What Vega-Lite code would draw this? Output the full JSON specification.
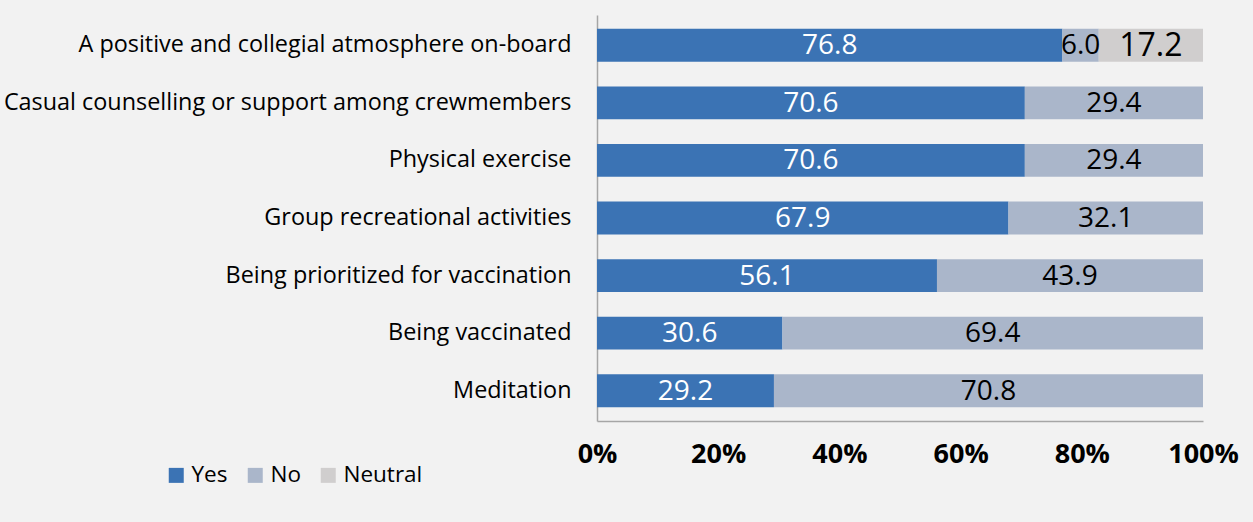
{
  "$schema": "https://vega.github.io/schema/vega-lite/v6.json",
  "width": 606,
  "height": 406,
  "autosize": "none",
  "padding": {"left": 597, "top": 15, "right": 50, "bottom": 101},
  "background": "#f2f2f2",
  "config": {
    "view": {"stroke": null},
    "font": "Open Sans"
  },
  "data": {
    "values": [
      {"item": "A positive and collegial atmosphere on-board", "response": "Yes", "ord": 1, "value": 76.8},
      {"item": "A positive and collegial atmosphere on-board", "response": "No", "ord": 2, "value": 6.0},
      {"item": "A positive and collegial atmosphere on-board", "response": "Neutral", "ord": 3, "value": 17.2},
      {"item": "Casual counselling or support among crewmembers", "response": "Yes", "ord": 1, "value": 70.6},
      {"item": "Casual counselling or support among crewmembers", "response": "No", "ord": 2, "value": 29.4},
      {"item": "Physical exercise", "response": "Yes", "ord": 1, "value": 70.6},
      {"item": "Physical exercise", "response": "No", "ord": 2, "value": 29.4},
      {"item": "Group recreational activities", "response": "Yes", "ord": 1, "value": 67.9},
      {"item": "Group recreational activities", "response": "No", "ord": 2, "value": 32.1},
      {"item": "Being prioritized for vaccination", "response": "Yes", "ord": 1, "value": 56.1},
      {"item": "Being prioritized for vaccination", "response": "No", "ord": 2, "value": 43.9},
      {"item": "Being vaccinated", "response": "Yes", "ord": 1, "value": 30.6},
      {"item": "Being vaccinated", "response": "No", "ord": 2, "value": 69.4},
      {"item": "Meditation", "response": "Yes", "ord": 1, "value": 29.2},
      {"item": "Meditation", "response": "No", "ord": 2, "value": 70.8}
    ]
  },
  "transform": [
    {"stack": "value", "groupby": ["item"], "sort": [{"field": "ord"}], "as": ["x0", "x1"]},
    {"calculate": "(datum.x0 + datum.x1) / 2", "as": "mid"}
  ],
  "encoding": {
    "y": {
      "field": "item",
      "type": "nominal",
      "sort": null,
      "scale": {"paddingInner": 0.43, "paddingOuter": 0.24},
      "axis": {
        "title": null,
        "ticks": false,
        "tickSize": 0,
        "labelPadding": 26,
        "labelFontSize": 23.4,
        "labelColor": "#000000",
        "labelFont": "Open Sans",
        "labelLimit": 700,
        "domainColor": "#a6a6a6",
        "domainWidth": 1.5
      }
    }
  },
  "layer": [
    {
      "mark": {"type": "bar"},
      "encoding": {
        "x": {
          "field": "x0",
          "type": "quantitative",
          "scale": {"domain": [0, 100], "nice": false},
          "axis": {
            "title": null,
            "values": [0, 20, 40, 60, 80, 100],
            "labelExpr": "datum.value + '%'",
            "grid": false,
            "ticks": false,
            "tickSize": 0,
            "labelPadding": 20,
            "labelFontSize": 27,
            "labelFontWeight": "bold",
            "labelColor": "#000000",
            "labelFont": "Open Sans",
            "labelFlush": false,
            "domainColor": "#a6a6a6",
            "domainWidth": 1.5
          }
        },
        "x2": {"field": "x1"},
        "color": {
          "field": "response",
          "type": "nominal",
          "scale": {"domain": ["Yes", "No", "Neutral"], "range": ["#3b73b4", "#aab6ca", "#d0cece"]},
          "legend": {
            "title": null,
            "orient": "none",
            "direction": "horizontal",
            "legendX": -432,
            "legendY": 449,
            "symbolType": "square",
            "symbolSize": 225,
            "symbolStrokeWidth": 0,
            "symbolOpacity": 1,
            "labelFontSize": 22.5,
            "labelColor": "#000000",
            "labelFont": "Open Sans",
            "labelOffset": 4,
            "columnPadding": 16
          }
        },
        "order": {"field": "ord"}
      }
    },
    {
      "mark": {"type": "text", "align": "center", "baseline": "middle", "font": "Open Sans", "dy": 1},
      "encoding": {
        "x": {"field": "mid", "type": "quantitative"},
        "text": {"field": "value", "type": "quantitative", "format": ".1f"},
        "size": {"condition": {"test": "datum.response === 'Neutral'", "value": 32}, "value": 28},
        "color": {"condition": {"test": "datum.response === 'Yes'", "value": "#ffffff"}, "value": "#000000"}
      }
    }
  ]
}
